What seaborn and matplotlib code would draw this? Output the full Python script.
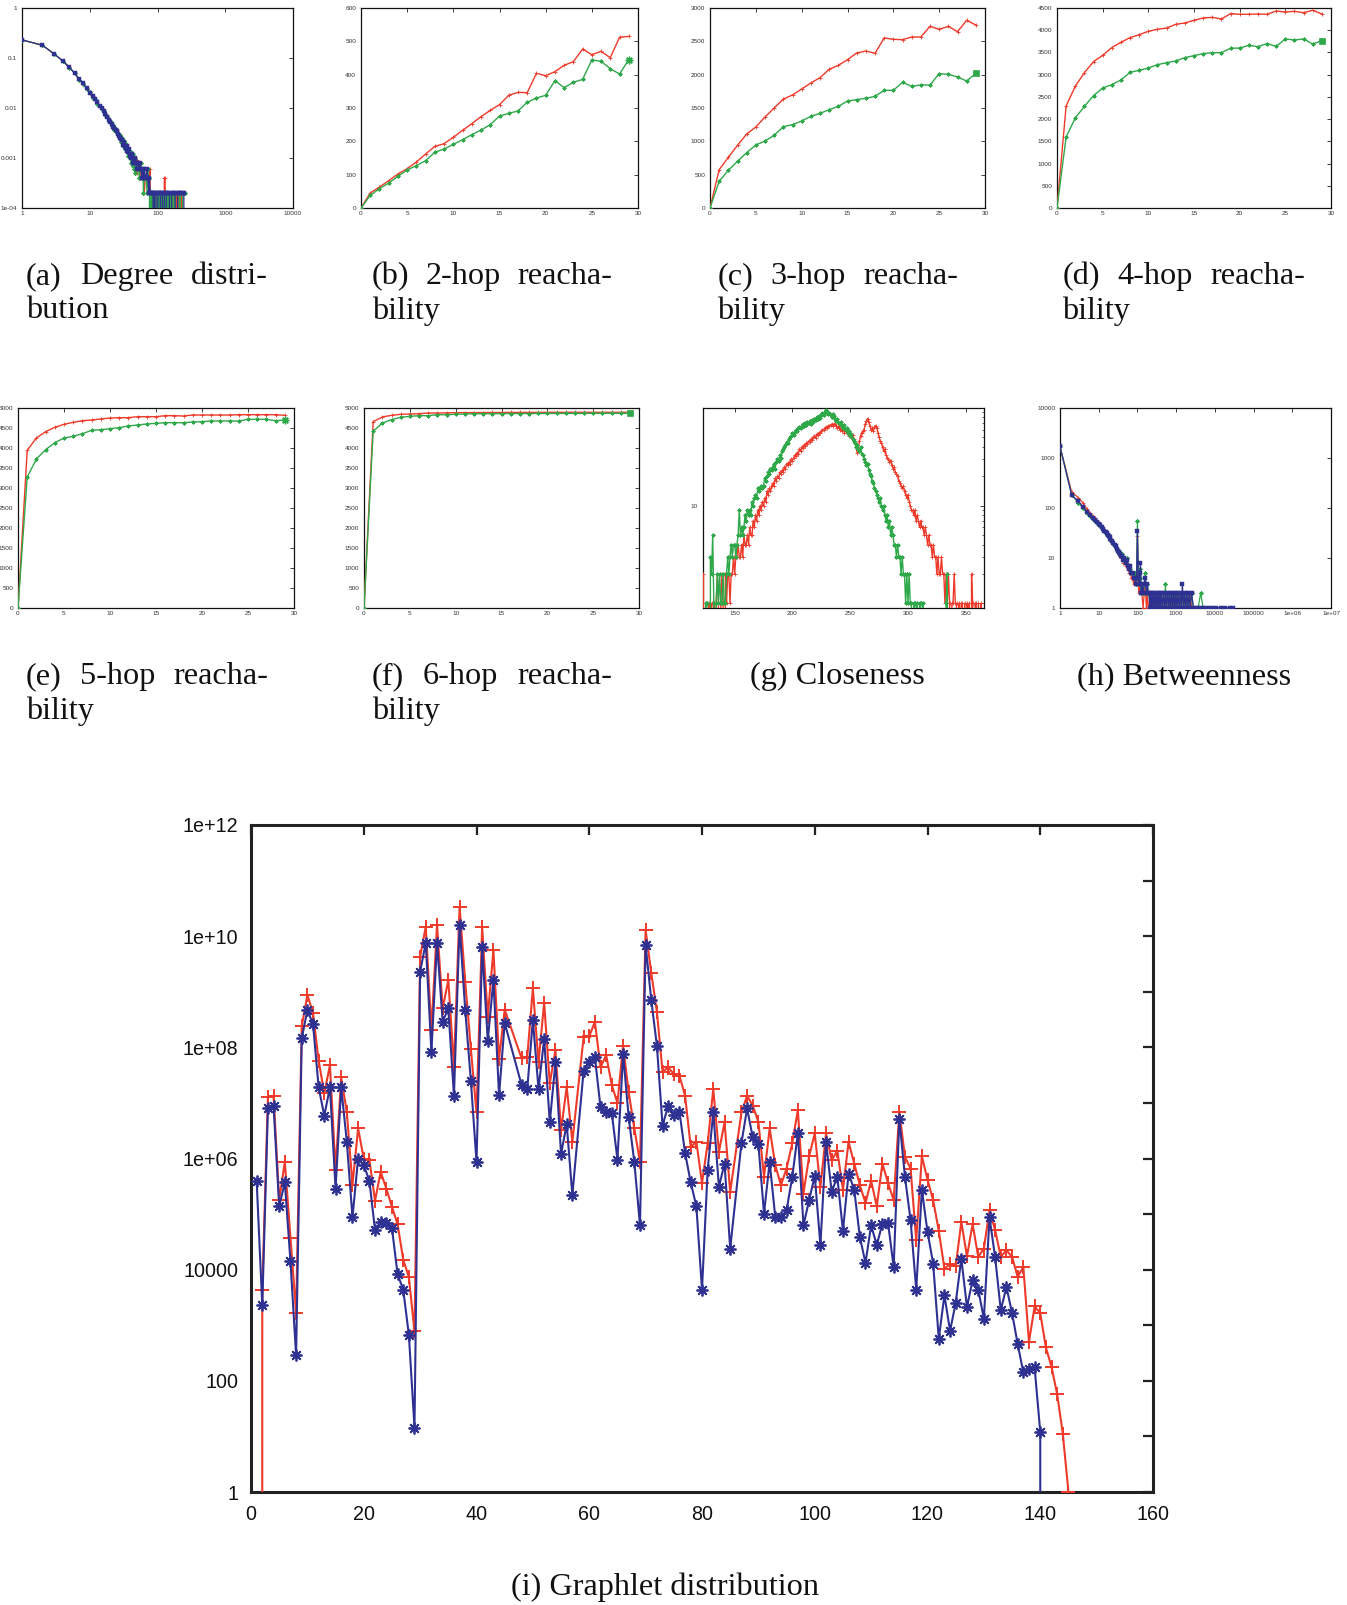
import numpy as np
import matplotlib
matplotlib.use("Agg")
import matplotlib.pyplot as plt
import matplotlib.ticker as mt
import seaborn as sns

# ----------------------------- DATA -----------------------------
hop_x = list(range(30))
hop2_red = [0,45,63,82,102,118,138,162,185,193,212,233,253,274,293,310,338,347,346,404,397,409,428,439,477,460,470,451,512,515]
hop2_green = [0,38,58,75,95,114,127,142,167,177,191,205,220,234,250,276,284,291,317,330,338,382,361,377,386,444,440,418,402,445]
hop3_red = [0,575,760,940,1110,1215,1365,1500,1635,1695,1785,1875,1955,2080,2140,2225,2325,2355,2320,2550,2530,2525,2565,2565,2725,2680,2725,2645,2815,2745]
hop3_green = [0,400,565,700,830,945,1005,1090,1220,1250,1305,1375,1420,1475,1525,1605,1625,1645,1675,1765,1765,1885,1825,1845,1845,2015,2005,1965,1905,2020]
hop4_red = [0,2295,2738,3045,3293,3435,3608,3728,3833,3900,3975,4020,4050,4133,4163,4223,4275,4290,4253,4373,4358,4358,4365,4358,4433,4410,4425,4395,4448,4365]
hop4_green = [0,1598,2025,2288,2528,2700,2775,2880,3053,3098,3150,3225,3270,3308,3383,3428,3473,3495,3495,3593,3600,3660,3630,3698,3638,3803,3780,3803,3690,3765]
hop5_red = [0,3942,4250,4408,4517,4592,4642,4683,4700,4725,4750,4758,4758,4783,4783,4783,4808,4808,4800,4825,4825,4825,4825,4825,4833,4833,4833,4833,4833,4817]
hop5_green = [0,3275,3725,3958,4133,4250,4292,4358,4442,4458,4483,4508,4550,4575,4600,4617,4633,4633,4633,4650,4658,4675,4675,4675,4675,4717,4717,4717,4683,4700]
hop6_red = [0,4658,4775,4817,4842,4850,4858,4875,4875,4880,4882,4885,4885,4887,4888,4888,4890,4890,4890,4890,4892,4892,4892,4893,4893,4893,4893,4893,4893,4893]
hop6_green = [0,4417,4625,4708,4767,4792,4808,4808,4833,4833,4842,4850,4855,4858,4858,4860,4860,4862,4862,4863,4863,4865,4865,4866,4866,4867,4868,4868,4869,4870]

# degree distribution
deg_x = list(range(1, 51)) + [52,54,55,57,59,61,62,64,66,68,70,72,74,76,78,80,82,84,86,88,90,92,95,98,101,104,107,110,114,118,122,126,130,135,140,145,150,156,162,168,175,182,190,198,206,215,225,235,245,258]
deg_blue = [0.23,0.18,0.12,0.087,0.065,0.049,0.038,0.031,0.025,0.020,
            0.017,0.015,0.013,0.011,0.0098,0.0086,0.0076,0.0066,0.0058,0.0052,
            0.0047,0.0042,0.0039,0.0036,0.0034,0.0030,0.0028,0.0025,0.0024,0.0023,
            0.0018,0.0021,0.0017,0.0016,0.0017,0.0014,0.0013,0.0015,0.0011,0.0012,
            0.0010,0.0012,0.0008,0.0010,0.0009,0.0008,0.0010,0.0008,0.0006,0.0008,
            0.0008,0.0006,0.0008,0.0006,0.0004,0.0006,0.0004,0.0006,0.0004,0.0004,
            0.0006,0.0004,0.0002,0.0004,0.0002,0.0002,0.0002,0.0002,0.0002,0,
            0.0002,0.0002,0.0002,0,0.0002,0.0002,0.0002,0.0002,0,0.0002,
            0.0002,0.0002,0,0.0002,0.0002,0.0002,0.0002,0,0.0002,0.0002,
            0.0002,0.0002,0,0.0002,0.0002,0.0002,0.0002,0.0002,0.0002,0]
deg_red = [0.23,0.18,0.12,0.088,0.066,0.049,0.037,0.031,0.025,0.020,
           0.017,0.015,0.013,0.011,0.0100,0.0085,0.0078,0.0068,0.0060,0.0050,
           0.0048,0.0040,0.0041,0.0034,0.0036,0.0029,0.0030,0.0024,0.0026,0.0021,
           0.0020,0.0019,0.0018,0.0015,0.0018,0.0013,0.0014,0.0012,0.0013,0.0010,
           0.0011,0.0009,0.0010,0.0007,0.0011,0.0006,0.0009,0.0007,0.0005,0.0009,
           0.0006,0.0008,0.0004,0.0006,0.0004,0.0006,0.0004,0.0002,0.0004,0.0004,
           0.0006,0.0004,0.0002,0.0004,0.0006,0,0.0002,0,0.0002,0.0002,
           0,0.0002,0,0.0002,0.0002,0,0.0002,0,0.0002,0.0002,
           0,0.0004,0.0004,0,0.0002,0,0.0002,0.0002,0,0.0002,
           0,0.0002,0.0002,0,0.0002,0,0.0002,0.0002,0,0]
deg_green = [0.23,0.18,0.12,0.087,0.064,0.050,0.037,0.030,0.024,0.021,
             0.016,0.015,0.012,0.011,0.0095,0.0088,0.0072,0.0070,0.0056,0.0055,
             0.0044,0.0045,0.0036,0.0038,0.0031,0.0032,0.0026,0.0029,0.0021,0.0025,
             0.0017,0.0022,0.0015,0.0019,0.0013,0.0016,0.0011,0.0014,0.0010,0.0013,
             0.0008,0.0011,0.0007,0.0012,0.0006,0.0010,0.0005,0.0008,0.0006,0.0007,
             0.0008,0.0004,0.0006,0.0008,0.0004,0.0006,0.0002,0.0006,0.0004,0.0004,
             0.0002,0.0006,0.0004,0.0004,0,0.0002,0,0.0002,0,0.0002,
             0,0.0002,0.0002,0,0.0002,0,0.0002,0,0.0002,0,
             0.0002,0,0.0002,0,0.0002,0.0002,0,0.0002,0,0.0002,
             0,0.0002,0,0.0002,0,0.0002,0,0.0002,0.0002,0.0002]

# closeness (x = 123 .. 365)
clo_x = list(range(123, 366))
clo_green = [0,0,1,1,0,0,3,2,5,1, 0,1,2,1,2,1,1,2,1,1, 2,3,2,3,4,3,4,4,3,4,
             5,9,5,6,5,6,8,7,9,8, 9,8,11,10,12,13,12,15,14,15, 16,15,16,19,18,20,22,21,24,23,
             25,27,24,28,30,29,33,31,36,38, 40,42,45,44,48,50,52,55,53,57, 60,58,62,64,63,66,68,65,70,67,
             72,70,74,69,76,72,78,75,80,77, 82,79,85,88,84,92,96,90,86,89, 84,80,86,82,78,74,77,71,68,72,
             66,63,67,60,62,56,58,52,54,48, 46,44,40,42,38,36,40,34,33,30, 28,26,27,23,21,20,18,17,15,14,
             13,12,11,12,10,9,10,8,7,8, 6,7,5,6,5,4,4,3,4,3, 3,2,3,2,2,1,2,1,2,1,
             1,0,1,1,0,1,0,1,1,0, 1,0,0,0,0,0,0,0,0,0, 0,0,0,0,0,0,0,0,0,0,
             1,2,0,0,0,0,0,0,0,0, 0,0,0,0,0,0,0,0,0,0, 0,0,0,0,0,0,0,0,0,0, 0,0,0]
clo_red = [2,0,1,0,0,1,0,1,0,1, 0,1,2,1,0,1,2,1,0,2, 1,2,2,1,2,2,3,2,3,3,
           4,3,3,4,3,5,4,4,5,4, 6,5,5,7,6,8,7,9,8,10, 9,11,10,12,11,14,13,15,14,16,
           17,16,19,18,20,19,22,21,23,22, 25,24,27,26,28,27,30,29,31,33, 32,35,34,38,36,40,39,42,41,44,
           43,46,45,48,47,50,52,49,54,53, 56,55,58,60,59,62,64,63,66,65, 67,68,66,69,68,65,62,66,60,63,
           58,62,56,60,55,57,52,55,50,53, 48,45,40,35,38,46,52,56,58,60, 68,74,78,72,66,60,62,58,64,66,
           62,56,50,46,44,40,36,38,33,31, 30,28,29,26,24,25,22,21,20,18, 17,16,15,16,14,13,12,13,11,10,
           9,9,8,9,7,8,7,6,7,6, 6,5,6,5,4,5,4,4,3,4, 3,3,2,3,2,2,3,2,2,1,
           2,1,2,1,0,1,1,2,1,1, 0,1,0,1,1,0,1,0,1,0, 1,0,2,1,0,1,1,0,1,0, 1,0,0]

# betweenness
bet_x = [1,2,3,4,5,6,7,8,9,10,11,12,13,14,15,16,17,18,19,20,22,24,26,28,30,32,34,36,38,40,43,46,50,54,58,62,66,70,75,80,
         85,90,95,100,105,110,115,120,125,130,140,150,160,170,180,190,
         200,210,220,230,240,250,265,280,295,310,330,350,370,390,410,440,470,500,530,560,600,640,680,720,770,820,870,930,990,1050,
         1120,1200,1280,1360,1450,1550,1650,1760,1880,2000,2150,2300,2500,2800,3200,3700,4300,5000,6000,7500,9000,11000,14000,18000,24000,29000]
bet_blue = [1700,180,135,105,82,72,63,57,52,48,45,41,38,35,33,31,29,27,26,24,22,20,18,17,15,14,13,12,11,11,9,10,8,9,7,6,7,5,5,4,
            4,3,4,35,4,3,5,8,2,3,2,3,4,2,3,2,
            2,1,2,1,2,1,2,1,2,1,2,1,2,1,2,1,2,1,2,1,2,1,2,1,2,1,2,1,2,1,
            2,1,2,1,3,1,2,1,2,1,2,1,2,1,1,1,1,1,1,1,1,1,1,1,1,1]
bet_red = [1700,210,160,125,95,80,70,62,55,50,46,42,38,36,33,30,28,27,25,23,21,19,17,16,14,13,12,11,10,10,8,9,7,8,6,5,5,4,4,3,
           4,3,3,28,3,2,4,3,2,2,1,2,3,1,2,1,
           1,2,1,2,1,1,2,1,2,1,1,2,1,2,1,1,2,1,2,1,2,1,1,2,1,2,1,2,1,1,
           2,1,2,1,2,1,2,1,2,1,2,2,1,1,1,1,1,1,1,1,1,1,1,1,0,0]
bet_green = [1700,185,125,100,78,68,60,55,50,46,43,40,36,34,32,29,28,26,24,23,21,19,18,16,15,14,12,13,11,12,9,10,8,10,7,6,6,5,5,4,
             5,3,4,55,4,3,4,6,2,3,2,3,5,2,3,2,
             2,1,2,1,2,1,2,1,2,1,2,1,2,1,2,1,2,1,3,1,2,1,2,1,2,1,2,1,2,1,
             2,1,2,1,2,1,2,1,2,1,2,1,2,1,1,1,2,1,1,1,1,1,1,1,1,0]

# graphlet distribution (values stored as powers of ten; -inf means zero count)
NEG = float("-inf")
graphlet_x = list(range(1, 46)) + list(range(48, 58)) + list(range(59, 86)) + list(range(87, 146))
graphlet_red_exp = [NEG,3.63,7.10,7.13,5.25,5.94,4.57,3.22,8.38,8.94,
    8.62,7.76,7.17,7.68,5.80,7.46,6.83,5.53,6.54,6.00,
    5.98,5.24,5.76,5.46,5.13,4.82,4.18,3.87,2.89,9.63,
    10.17,8.31,10.20,8.70,9.21,7.65,10.53,9.18,7.97,6.83,
    10.16,8.55,9.75,7.79,8.68,
    7.80,7.82,9.06,7.73,8.80,7.35,7.95,6.51,7.29,6.30,
    8.18,8.20,8.46,7.64,7.86,7.32,7.00,8.03,7.19,6.54,
    5.93,10.11,9.34,8.64,7.56,7.64,7.52,7.49,7.13,6.21,
    6.30,5.56,6.27,7.25,6.12,6.65,5.40,
    6.83,7.13,6.95,6.66,5.67,6.54,5.88,5.52,5.82,6.27,
    6.87,5.37,6.04,6.45,5.48,6.45,5.97,6.14,5.44,6.30,
    5.91,5.52,5.20,5.60,5.14,5.91,5.56,5.25,6.84,6.03,
    5.82,4.53,6.04,5.62,5.25,4.70,4.02,4.10,4.06,4.86,
    4.24,4.82,4.23,4.38,5.07,4.71,4.23,4.35,4.23,3.87,
    4.05,2.70,3.34,3.22,2.60,2.25,1.76,1.05,0.0]
graphlet_blue_exp = [5.60,3.36,6.90,6.95,5.14,5.57,4.15,2.46,8.16,8.67,
    8.42,7.28,6.77,7.28,5.46,7.28,6.30,4.94,6.00,5.88,
    5.60,4.71,4.86,4.84,4.75,3.92,3.64,2.83,1.16,9.36,
    9.88,7.92,9.88,8.46,8.70,7.13,10.20,8.67,7.40,5.94,
    9.80,8.12,9.21,7.14,8.44,
    7.32,7.25,8.49,7.25,8.15,6.65,7.73,6.08,6.62,5.34,
    7.58,7.73,7.82,6.92,6.84,6.82,5.98,7.88,6.74,5.93,
    4.80,9.84,8.85,8.03,6.59,6.95,6.78,6.84,6.10,5.57,
    5.14,3.64,5.79,6.83,5.49,5.91,4.38,
    6.28,6.90,6.38,6.26,5.01,5.94,4.94,4.94,5.07,5.66,
    6.45,4.80,5.25,5.69,4.44,6.30,5.40,5.67,4.70,5.73,
    5.44,4.59,4.12,4.80,4.44,4.83,4.84,4.05,6.71,5.67,
    4.89,3.64,5.44,4.68,4.11,2.76,3.54,2.90,3.40,4.20,
    3.33,3.81,3.64,3.12,4.94,4.22,3.27,3.69,3.22,2.66,
    2.15,2.22,2.24,1.08,NEG,NEG,NEG,NEG,NEG]

# tick labels
deg_xticklabels = ["1", "10", "100", "1000", "10000"]
deg_yticklabels = ["1e-04", "0.001", "0.01", "0.1", "1"]
bet_xticklabels = ["1", "10", "100", "1000", "10000", "100000", "1e+06", "1e+07"]
bet_yticklabels = ["1", "10", "100", "1000", "10000"]
graphlet_yticklabels = ["1", "", "100", "", "10000", "", "1e+06", "", "1e+08", "", "1e+10", "", "1e+12"]

captions_two_line = [
    (["(a)", "Degree", "distri-"], "bution"),
    (["(b)", "2-hop", "reacha-"], "bility"),
    (["(c)", "3-hop", "reacha-"], "bility"),
    (["(d)", "4-hop", "reacha-"], "bility"),
    (["(e)", "5-hop", "reacha-"], "bility"),
    (["(f)", "6-hop", "reacha-"], "bility"),
]
caption_g = "(g) Closeness"
caption_h = "(h) Betweenness"
caption_i = "(i) Graphlet distribution"

# ----------------------------- STYLE -----------------------------
sns.set_theme(style="white")
plt.rcParams["font.family"] = ["Liberation Sans", "DejaVu Sans"]
RED = "#ee3a2a"
GREEN = "#2fa84a"
BLUE = "#2e3192"
ASTER = (8, 2, 0)

W, H = 1347, 1605
fig = plt.figure(figsize=(W / 100, H / 100), dpi=100)
fig.patch.set_facecolor("white")


def add_ax(x0, y0, x1, y1):
    return fig.add_axes([x0 / W, 1 - y1 / H, (x1 - x0) / W, (y1 - y0) / H])


def line(ax, x, y, color, marker, ms, lw, mew, z, mfc=None):
    sns.lineplot(x=np.asarray(x, float), y=np.asarray(y, float), ax=ax, color=color,
                 marker=marker, markersize=ms, linewidth=lw, markeredgewidth=mew,
                 markeredgecolor=color, markerfacecolor=mfc if mfc else color,
                 estimator=None, sort=False, zorder=z, legend=False)


def small_style(ax):
    for sp in ax.spines.values():
        sp.set_linewidth(0.9)
        sp.set_color("#111111")
    ax.tick_params(which="major", direction="in", top=True, right=True, length=2.6,
                   width=0.6, labelsize=4.6, labelcolor="#333333", color="#222222")
    ax.tick_params(axis="y", pad=3.5)
    ax.tick_params(axis="x", pad=2.5)
    ax.tick_params(which="minor", direction="in", top=True, right=True, length=1.5,
                   width=0.5, color="#222222")
    ax.set_xlabel("")
    ax.set_ylabel("")
    ax.grid(False)


# ---------- (a) degree distribution ----------
ax = add_ax(22, 8, 293, 208)
line(ax, deg_x, deg_red, RED, "+", 3.0, 0.9, 0.6, 3)
line(ax, deg_x, deg_green, GREEN, ASTER, 3.0, 0.9, 0.6, 4)
line(ax, deg_x, deg_blue, BLUE, "s", 2.3, 0.9, 0.3, 5)
ax.set_xscale("log")
ax.set_yscale("log")
ax.set_xlim(1, 10000)
ax.set_ylim(1e-4, 1)
ax.xaxis.set_major_locator(mt.FixedLocator([1, 10, 100, 1000, 10000]))
ax.xaxis.set_major_formatter(mt.FixedFormatter(deg_xticklabels))
ax.yaxis.set_major_locator(mt.FixedLocator([1e-4, 1e-3, 1e-2, 1e-1, 1]))
ax.yaxis.set_major_formatter(mt.FixedFormatter(deg_yticklabels))
ax.xaxis.set_minor_locator(mt.NullLocator())
ax.yaxis.set_minor_locator(mt.NullLocator())
small_style(ax)

# ---------- (b)-(f) reachability ----------
hop_specs = [
    ((361, 8, 638, 208), hop2_red, hop2_green, 600, 100, "*"),
    ((710, 8, 985, 208), hop3_red, hop3_green, 3000, 500, "s"),
    ((1057, 8, 1331, 208), hop4_red, hop4_green, 4500, 500, "s"),
    ((18, 408, 294, 608), hop5_red, hop5_green, 5000, 500, "*"),
    ((364, 408, 639, 608), hop6_red, hop6_green, 5000, 500, "s"),
]
for box, r, g, ymax, ystep, endm in hop_specs:
    ax = add_ax(*box)
    line(ax, hop_x, r, RED, "+", 2.8, 1.0, 0.6, 3)
    line(ax, hop_x, g, GREEN, ASTER, 2.8, 1.0, 0.6, 4)
    if endm == "*":
        line(ax, hop_x[-1:], g[-1:], GREEN, ASTER, 5.5, 1.0, 1.0, 5)
    else:
        line(ax, hop_x[-1:], g[-1:], GREEN, "s", 4.0, 1.0, 0.5, 5)
    ax.set_xlim(0, 30)
    ax.set_ylim(0, ymax)
    ax.xaxis.set_major_locator(mt.MultipleLocator(5))
    ax.yaxis.set_major_locator(mt.MultipleLocator(ystep))
    ax.xaxis.set_major_formatter(mt.FormatStrFormatter("%d"))
    ax.yaxis.set_major_formatter(mt.FormatStrFormatter("%d"))
    small_style(ax)

# ---------- (g) closeness ----------
ax = add_ax(703, 408, 984, 608)
line(ax, clo_x, clo_red, RED, "+", 2.8, 1.0, 0.6, 3)
line(ax, clo_x, clo_green, GREEN, ASTER, 2.8, 1.0, 0.6, 4)
ax.set_yscale("log")
ax.set_xlim(122.6, 365.8)
ax.set_ylim(0.896, 100)
ax.xaxis.set_major_locator(mt.FixedLocator([150, 200, 250, 300, 350]))
ax.xaxis.set_major_formatter(mt.FormatStrFormatter("%d"))
ax.xaxis.set_minor_locator(mt.NullLocator())
ax.yaxis.set_major_locator(mt.FixedLocator([1, 10, 100]))
ax.yaxis.set_major_formatter(mt.FixedFormatter(["", "10", ""]))
ax.yaxis.set_minor_locator(mt.LogLocator(base=10, subs=np.arange(2, 10)))
ax.yaxis.set_minor_formatter(mt.NullFormatter())
small_style(ax)

# ---------- (h) betweenness ----------
ax = add_ax(1060, 408, 1331, 608)
line(ax, bet_x, bet_red, RED, "+", 3.0, 0.9, 0.6, 3)
line(ax, bet_x, bet_green, GREEN, ASTER, 3.0, 0.9, 0.6, 4)
line(ax, bet_x, bet_blue, BLUE, "s", 2.3, 0.9, 0.3, 5)
ax.set_xscale("log")
ax.set_yscale("log")
ax.set_xlim(1, 1e7)
ax.set_ylim(1, 10000)
ax.xaxis.set_major_locator(mt.FixedLocator([10.0 ** k for k in range(8)]))
ax.xaxis.set_major_formatter(mt.FixedFormatter(bet_xticklabels))
ax.yaxis.set_major_locator(mt.FixedLocator([10.0 ** k for k in range(5)]))
ax.yaxis.set_major_formatter(mt.FixedFormatter(bet_yticklabels))
ax.xaxis.set_minor_locator(mt.NullLocator())
ax.yaxis.set_minor_locator(mt.NullLocator())
small_style(ax)

# ---------- (i) graphlet distribution ----------
ax = add_ax(251, 825, 1153, 1492)
gr = np.power(10.0, np.asarray(graphlet_red_exp))
gb = np.power(10.0, np.asarray(graphlet_blue_exp))
line(ax, graphlet_x, gr, RED, "+", 10, 1.5, 1.4, 3)
line(ax, graphlet_x, gb, BLUE, ASTER, 8.5, 1.5, 1.3, 4)
ax.set_yscale("log")
ax.set_xlim(0, 160)
ax.set_ylim(1, 1e12)
ax.xaxis.set_major_locator(mt.MultipleLocator(20))
ax.xaxis.set_major_formatter(mt.FormatStrFormatter("%d"))
ax.yaxis.set_major_locator(mt.FixedLocator([10.0 ** k for k in range(13)]))
ax.yaxis.set_major_formatter(mt.FixedFormatter(graphlet_yticklabels))
ax.yaxis.set_minor_locator(mt.NullLocator())
ax.xaxis.set_minor_locator(mt.NullLocator())
for sp in ax.spines.values():
    sp.set_linewidth(2.2)
    sp.set_color("#222222")
ax.tick_params(which="major", direction="in", top=True, right=True, length=7,
               width=1.6, labelsize=14.2, labelcolor="#111111", color="#222222")
ax.tick_params(axis="y", pad=9)
ax.tick_params(axis="x", pad=9)
ax.set_xlabel("")
ax.set_ylabel("")
ax.grid(False)

# ----------------------------- CAPTIONS -----------------------------
CAP_FS = 23.2
SERIF = ["Liberation Serif", "DejaVu Serif"]
renderer = fig.canvas.get_renderer()


def justified(words, x0, x1, yb):
    texts = [fig.text(0, 0, w, fontsize=CAP_FS, family=SERIF, ha="left", va="baseline", color="#111111")
             for w in words]
    widths = [t.get_window_extent(renderer).width for t in texts]
    gap = (x1 - x0 - sum(widths)) / (len(words) - 1)
    x = x0
    for t, w in zip(texts, widths):
        t.set_position((x / W, 1 - yb / H))
        x += w + gap


cap_boxes = [(25.6, 268.2, 284.0), (371.6, 612.1, 284.0), (717.5, 958.1, 284.0), (1062.5, 1305.1, 284.0),
             (25.6, 268.2, 684.0), (371.6, 612.1, 684.0)]
for (words, second), (x0, x1, yb) in zip(captions_two_line, cap_boxes):
    justified(words, x0, x1, yb)
    fig.text(x0 / W, 1 - (yb + 34.5) / H, second, fontsize=CAP_FS, family=SERIF,
             ha="left", va="baseline", color="#111111")

fig.text(837.3 / W, 1 - 684.0 / H, caption_g, fontsize=CAP_FS, family=SERIF, ha="center", va="baseline", color="#111111")
fig.text(1183.8 / W, 1 - 684.0 / H, caption_h, fontsize=CAP_FS, family=SERIF, ha="center", va="baseline", color="#111111")
fig.text(665.3 / W, 1 - 1595.0 / H, caption_i, fontsize=CAP_FS, family=SERIF, ha="center", va="baseline", color="#111111")

fig.savefig("out.png", dpi=100, facecolor="white")
